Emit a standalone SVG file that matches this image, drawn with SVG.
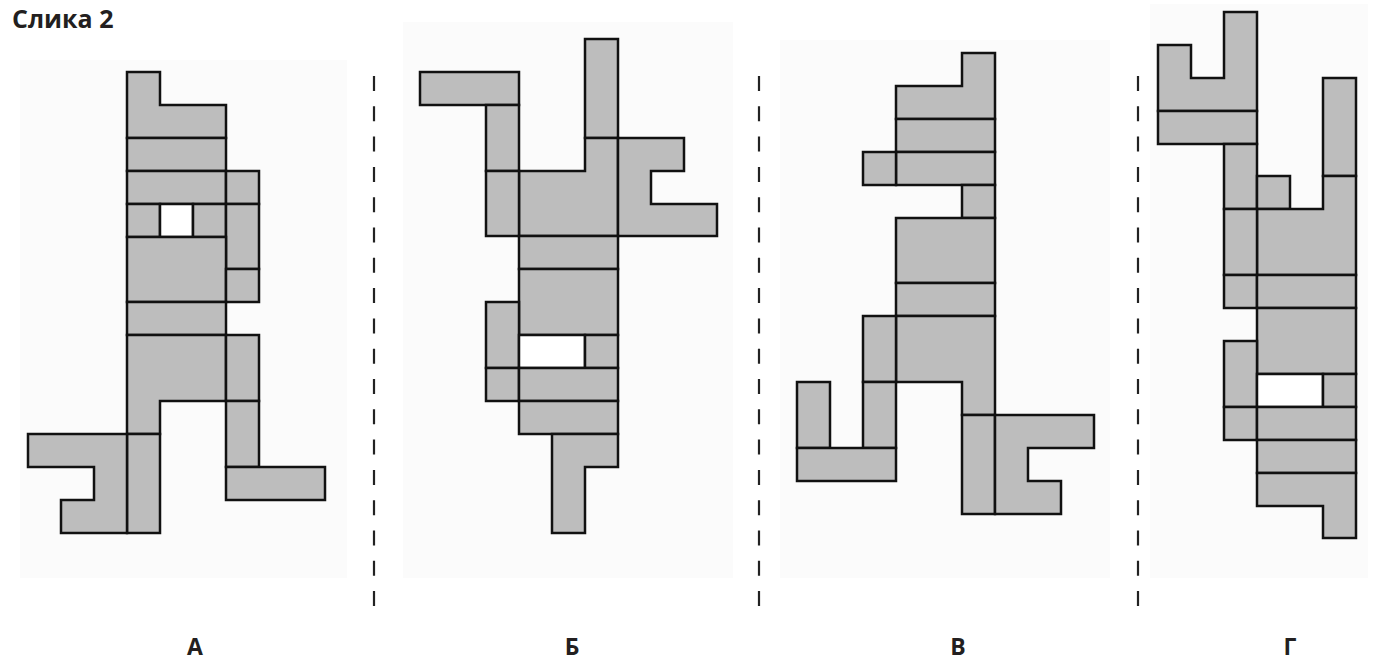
<svg xmlns="http://www.w3.org/2000/svg" width="1376" height="660" viewBox="0 0 1376 660">
<style>
.p{fill:#bdbdbd;stroke:#111;stroke-width:2.5;stroke-linejoin:miter}
.h{fill:#fff;stroke:#111;stroke-width:2.5}
.bg{fill:#fbfbfb}
.d{stroke:#222;stroke-width:2.2;stroke-dasharray:15 15.3;fill:none}
.t{font-family:"Open Sans","DejaVu Sans",sans-serif;font-weight:bold;fill:#231f20}
</style>
<rect width="1376" height="660" fill="#fff"/>
<g id="panels">
<rect class="bg" x="20" y="60" width="327" height="518"/>
<rect class="bg" x="403" y="22" width="330" height="556"/>
<rect class="bg" x="780" y="40" width="330" height="538"/>
<rect class="bg" x="1150" y="4" width="218" height="574"/>
</g>
<text class="t" x="12" y="28" font-size="25">Слика 2</text>
<g id="separators">
<line class="d" x1="374" y1="76" x2="374" y2="607"/>
<line class="d" x1="759" y1="76" x2="759" y2="607"/>
<line class="d" x1="1138" y1="76" x2="1138" y2="607"/>
</g>
<g id="figA">
<polygon class="p" points="127,72 160,72 160,105 226,105 226,138 127,138"/>
<rect class="p" x="127" y="138" width="99" height="33"/>
<rect class="p" x="127" y="171" width="99" height="33"/>
<rect class="p" x="226" y="171" width="33" height="33"/>
<rect class="p" x="127" y="204" width="33" height="33"/>
<rect class="h" x="160" y="204" width="33" height="33"/>
<rect class="p" x="193" y="204" width="33" height="33"/>
<rect class="p" x="226" y="204" width="33" height="65"/>
<rect class="p" x="127" y="237" width="99" height="65"/>
<rect class="p" x="226" y="269" width="33" height="33"/>
<rect class="p" x="127" y="302" width="99" height="33"/>
<polygon class="p" points="127,335 226,335 226,401 160,401 160,434 127,434"/>
<rect class="p" x="226" y="335" width="33" height="66"/>
<rect class="p" x="226" y="401" width="33" height="66"/>
<rect class="p" x="226" y="467" width="99" height="33"/>
<rect class="p" x="127" y="434" width="33" height="99"/>
<polygon class="p" points="28,434 127,434 127,533 61,533 61,500 94,500 94,467 28,467"/>
</g>
<g id="figB">
<rect class="p" x="420" y="72" width="99" height="33"/>
<rect class="p" x="486" y="105" width="33" height="66"/>
<rect class="p" x="585" y="39" width="33" height="99"/>
<polygon class="p" points="519,171 585,171 585,138 618,138 618,236 519,236"/>
<rect class="p" x="486" y="171" width="33" height="65"/>
<polygon class="p" points="618,138 684,138 684,171 651,171 651,204 717,204 717,236 618,236"/>
<rect class="p" x="519" y="236" width="99" height="33"/>
<rect class="p" x="519" y="269" width="99" height="66"/>
<rect class="p" x="486" y="302" width="33" height="66"/>
<rect class="h" x="519" y="335" width="66" height="33"/>
<rect class="p" x="585" y="335" width="33" height="33"/>
<rect class="p" x="486" y="368" width="33" height="33"/>
<rect class="p" x="519" y="368" width="99" height="33"/>
<rect class="p" x="519" y="401" width="99" height="33"/>
<polygon class="p" points="552,434 618,434 618,467 585,467 585,533 552,533"/>
</g>
<g id="figV">
<polygon class="p" points="962,53 995,53 995,119 896,119 896,86 962,86"/>
<rect class="p" x="896" y="119" width="99" height="33"/>
<rect class="p" x="896" y="152" width="99" height="33"/>
<rect class="p" x="863" y="152" width="33" height="33"/>
<rect class="p" x="962" y="185" width="33" height="33"/>
<rect class="p" x="896" y="218" width="99" height="65"/>
<rect class="p" x="896" y="283" width="99" height="33"/>
<polygon class="p" points="896,316 995,316 995,415 962,415 962,382 896,382"/>
<rect class="p" x="863" y="316" width="33" height="66"/>
<rect class="p" x="863" y="382" width="33" height="66"/>
<rect class="p" x="797" y="382" width="33" height="66"/>
<rect class="p" x="797" y="448" width="99" height="33"/>
<rect class="p" x="962" y="415" width="33" height="99"/>
<polygon class="p" points="995,415 1094,415 1094,448 1028,448 1028,481 1061,481 1061,514 995,514"/>
</g>
<g id="figG">
<polygon class="p" points="1224,12 1257,12 1257,111 1158,111 1158,45 1191,45 1191,78 1224,78"/>
<rect class="p" x="1158" y="111" width="99" height="33"/>
<rect class="p" x="1224" y="144" width="33" height="65"/>
<rect class="p" x="1257" y="176" width="33" height="33"/>
<rect class="p" x="1323" y="78" width="33" height="98"/>
<polygon class="p" points="1323,176 1356,176 1356,275 1257,275 1257,209 1323,209"/>
<rect class="p" x="1224" y="209" width="33" height="66"/>
<rect class="p" x="1224" y="275" width="33" height="33"/>
<rect class="p" x="1257" y="275" width="99" height="33"/>
<rect class="p" x="1257" y="308" width="99" height="66"/>
<rect class="p" x="1224" y="341" width="33" height="66"/>
<rect class="h" x="1257" y="374" width="66" height="33"/>
<rect class="p" x="1323" y="374" width="33" height="33"/>
<rect class="p" x="1224" y="407" width="33" height="33"/>
<rect class="p" x="1257" y="407" width="99" height="33"/>
<rect class="p" x="1257" y="440" width="99" height="33"/>
<polygon class="p" points="1257,473 1356,473 1356,538 1323,538 1323,506 1257,506"/>
</g>
<g id="labels">
<text class="t" x="195" y="655" font-size="23" text-anchor="middle">А</text>
<text class="t" x="572" y="655" font-size="23" text-anchor="middle">Б</text>
<text class="t" x="958" y="655" font-size="23" text-anchor="middle">В</text>
<text class="t" x="1290" y="655" font-size="23" text-anchor="middle">Г</text>
</g>
</svg>
